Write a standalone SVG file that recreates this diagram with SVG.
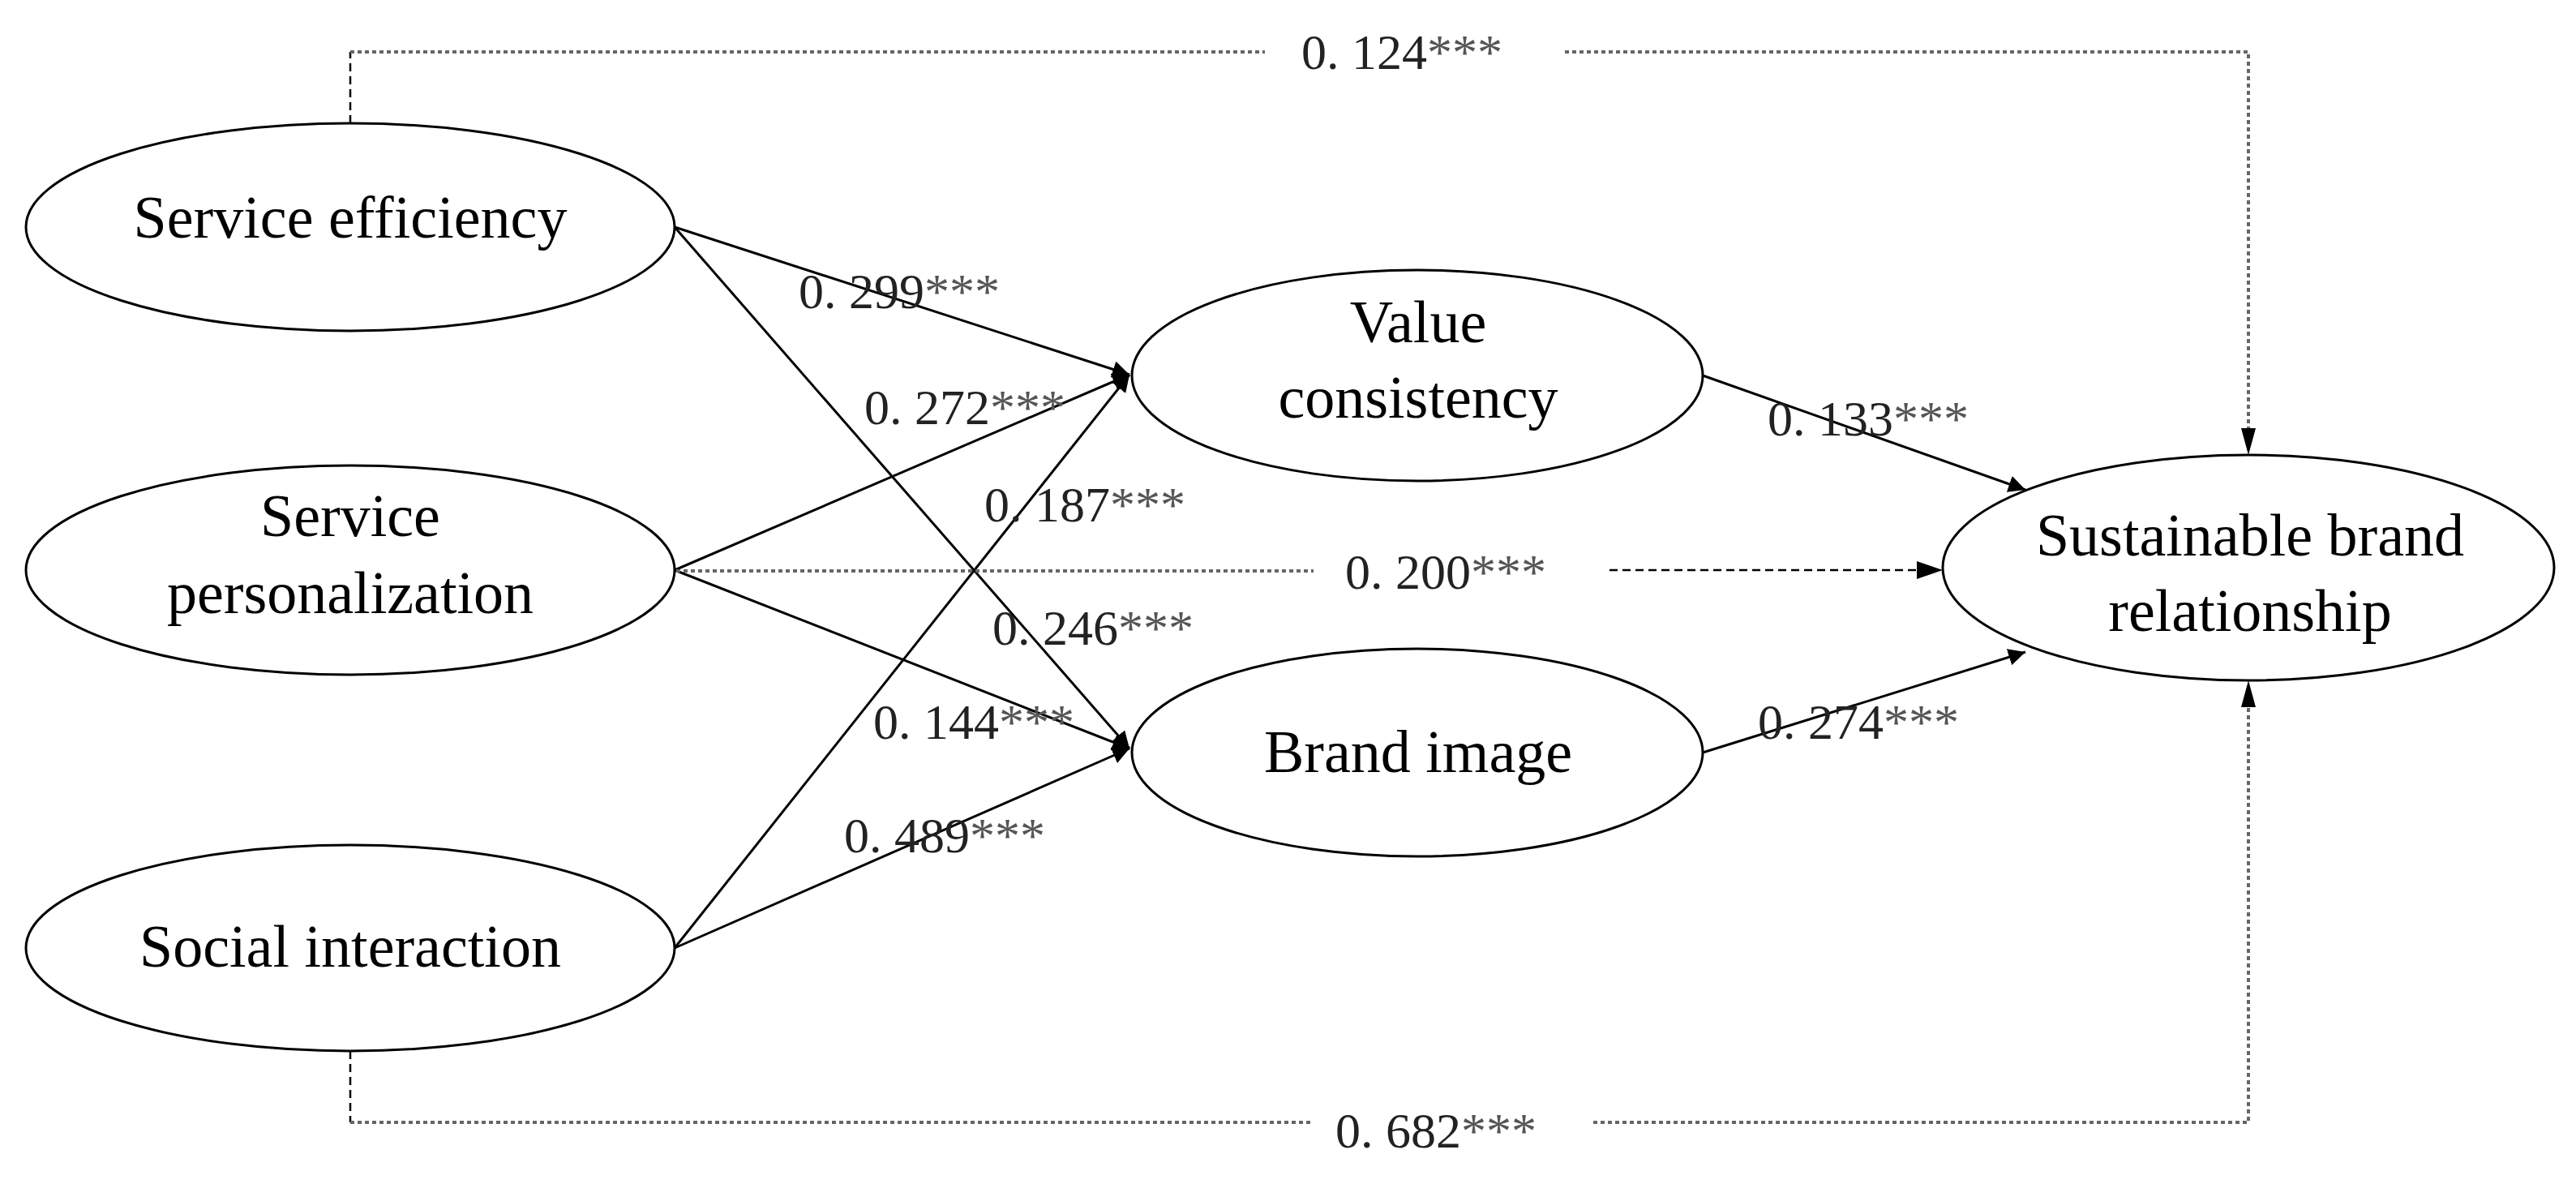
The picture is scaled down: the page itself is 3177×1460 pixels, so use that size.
<svg xmlns="http://www.w3.org/2000/svg" width="3177" height="1460" viewBox="0 0 3177 1460">
<style>
.n{fill:#fff;stroke:#000;stroke-width:3}
.t{font-family:"Liberation Serif",serif;font-size:74px;text-anchor:middle;fill:#000}
.l{font-family:"Liberation Serif",serif;font-size:62px;fill:#222}
.s{fill:#555}
.c{stroke:#000;stroke-width:3;fill:none}
.d{stroke:#666;stroke-width:4;stroke-dasharray:5 4;fill:none}
.v{stroke:#000;stroke-width:2.5;stroke-dasharray:10 6;fill:none}
</style>
<defs>
<marker id="a" viewBox="0 0 10 10" refX="10" refY="5" markerWidth="9" markerHeight="9" markerUnits="userSpaceOnUse" orient="auto"><path d="M0,0 L10,5 L0,10 z" fill="#000"/></marker>
<marker id="b" viewBox="0 0 10 10" refX="10" refY="5" markerWidth="7" markerHeight="7" orient="auto"><path d="M0,0 L10,5 L0,10 z" fill="#000"/></marker>
</defs>
<rect width="3177" height="1460" fill="#fff"/>
<g id="connectors">
<line class="c" x1="832" y1="280" x2="1393" y2="462" marker-end="url(#b)"/>
<line class="c" x1="832" y1="280" x2="1393" y2="923" marker-end="url(#b)"/>
<line class="c" x1="832" y1="703" x2="1393" y2="462" marker-end="url(#b)"/>
<line class="c" x1="832" y1="703" x2="1393" y2="923" marker-end="url(#b)"/>
<line class="c" x1="832" y1="1169" x2="1393" y2="462" marker-end="url(#b)"/>
<line class="c" x1="832" y1="1169" x2="1393" y2="923" marker-end="url(#b)"/>
<line class="c" x1="2100" y1="463" x2="2498" y2="604" marker-end="url(#b)"/>
<line class="c" x1="2100" y1="928" x2="2498" y2="804" marker-end="url(#b)"/>
<line class="v" x1="432" y1="152" x2="432" y2="64"/>
<polyline class="d" points="432,64 1560,64"/>
<polyline class="d" points="1930,64 2773,64 2773,555"/>
<path d="M2764,528 L2773,561 L2782,528 z" fill="#000"/>
<line class="d" x1="834" y1="704" x2="1620" y2="704"/>
<line class="v" x1="1985" y1="703" x2="2366" y2="703"/>
<path d="M2364,692 L2396,703 L2364,714 z" fill="#000"/>
<line class="v" x1="432" y1="1296" x2="432" y2="1384"/>
<polyline class="d" points="432,1384 1620,1384"/>
<polyline class="d" points="1965,1384 2773,1384 2773,845"/>
<path d="M2764,872 L2773,839 L2782,872 z" fill="#000"/>
</g>
<g id="se"><ellipse class="n" cx="432" cy="280" rx="400" ry="128"/><text class="t" x="432" y="293">Service efficiency</text></g>
<g id="sp"><ellipse class="n" cx="432" cy="703" rx="400" ry="129"/><text class="t" x="432" y="661">Service</text><text class="t" x="432" y="756">personalization</text></g>
<g id="si"><ellipse class="n" cx="432" cy="1169" rx="400" ry="127"/><text class="t" x="432" y="1192">Social interaction</text></g>
<g id="vc"><ellipse class="n" cx="1748" cy="463" rx="352" ry="130"/><text class="t" x="1749" y="422">Value</text><text class="t" x="1749" y="515">consistency</text></g>
<g id="bi"><ellipse class="n" cx="1748" cy="928" rx="352" ry="128"/><text class="t" x="1749" y="952">Brand image</text></g>
<g id="sbr"><ellipse class="n" cx="2773" cy="700" rx="377" ry="139"/><text class="t" x="2775" y="685">Sustainable brand</text><text class="t" x="2775" y="778">relationship</text></g>
<g id="labels">
<text class="l" x="985" y="380">0. 299<tspan class="s">***</tspan></text>
<text class="l" x="1066" y="523">0. 272<tspan class="s">***</tspan></text>
<text class="l" x="1214" y="643">0. 187<tspan class="s">***</tspan></text>
<text class="l" x="1224" y="795">0. 246<tspan class="s">***</tspan></text>
<text class="l" x="1077" y="911">0. 144<tspan class="s">***</tspan></text>
<text class="l" x="1041" y="1051">0. 489<tspan class="s">***</tspan></text>
<text class="l" x="2180" y="537">0. 133<tspan class="s">***</tspan></text>
<text class="l" x="2168" y="911">0. 274<tspan class="s">***</tspan></text>
<text class="l" x="1659" y="726">0. 200<tspan class="s">***</tspan></text>
<text class="l" x="1647" y="1415">0. 682<tspan class="s">***</tspan></text>
<text class="l" x="1605" y="85">0. 124<tspan class="s">***</tspan></text>
</g>
</svg>
